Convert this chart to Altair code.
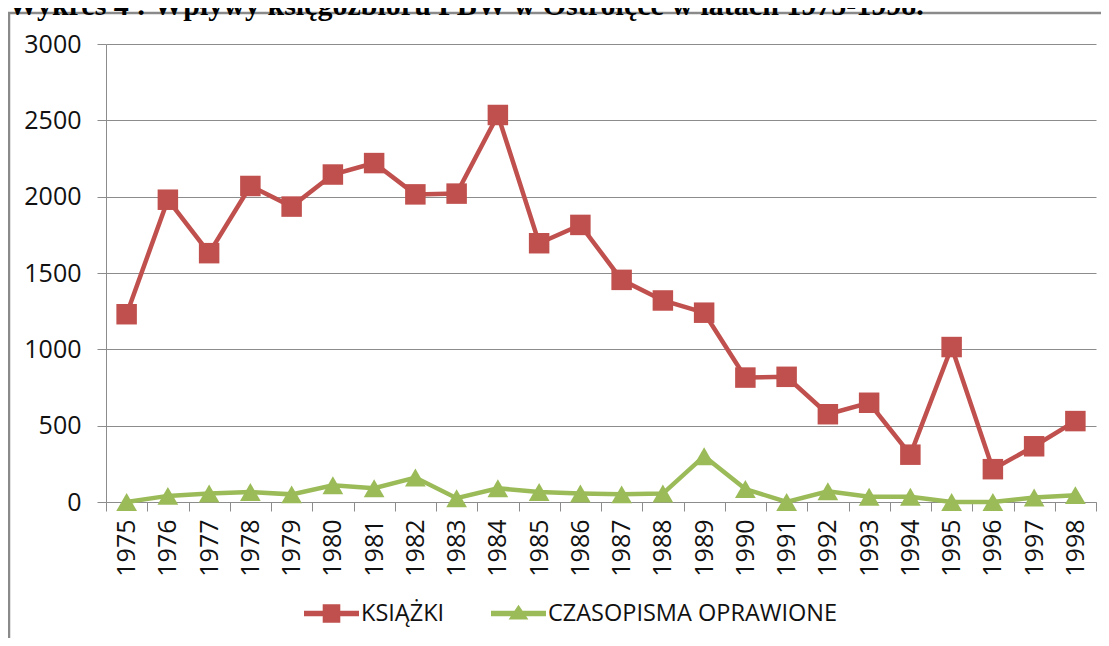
import altair as alt
import pandas as pd

TITLE = "Wykres 4 : Wpływy księgozbioru PBW w Ostrołęce w latach 1975-1998."
YEARS = ["1975", "1976", "1977", "1978", "1979", "1980", "1981", "1982",
         "1983", "1984", "1985", "1986", "1987", "1988", "1989", "1990",
         "1991", "1992", "1993", "1994", "1995", "1996", "1997", "1998"]
SERIES = ["KSIĄŻKI", "CZASOPISMA OPRAWIONE"]
KSIAZKI = [1230, 1980, 1630, 2070, 1935, 2145, 2220, 2015, 2020, 2535, 1695, 1815,
           1455, 1320, 1240, 815, 820, 575, 650, 310, 1015, 215, 365, 530]
CZASOPISMA = [0, 40, 55, 65, 50, 110, 90, 160, 25, 90, 65, 55,
              50, 55, 300, 85, 0, 70, 35, 35, 0, 0, 30, 45]
Y_TICKS = [0, 500, 1000, 1500, 2000, 2500, 3000]
COLORS = ["#C0504D", "#9BBB59"]

FONT = "Open Sans"
GRID = "#8c8c8c"
TXT = "#111111"

# legend symbols: a line with the marker on it
LEG_SQUARE = "M-1,-0.1H1V0.1H-1Z M-0.32,-0.34H0.32V0.34H-0.32Z"
LEG_TRIANGLE = "M-1,-0.1H1V0.1H-1Z M0,-0.32L0.36,0.22H-0.36Z"

df = pd.DataFrame({
    "year": YEARS + YEARS,
    "series": [SERIES[0]] * len(YEARS) + [SERIES[1]] * len(YEARS),
    "value": KSIAZKI + CZASOPISMA,
})

x_enc = alt.X(
    "year:O", sort=YEARS,
    scale=alt.Scale(type="band", paddingInner=0, paddingOuter=0),
    axis=alt.Axis(title=None, labelAngle=270, tickBand="extent", tickSize=9,
                  labelPadding=8, labelFont=FONT, labelFontSize=25, labelColor=TXT,
                  domainColor=GRID, tickColor=GRID, grid=False),
)
y_enc = alt.Y(
    "value:Q",
    scale=alt.Scale(domain=[0, 3000], nice=False),
    axis=alt.Axis(title=None, values=Y_TICKS, format="d", grid=True, gridColor=GRID,
                  gridWidth=1, tickSize=9, tickColor=GRID, domainColor=GRID,
                  labelPadding=16, labelFont=FONT, labelFontSize=25, labelColor=TXT),
)
color_scale = alt.Scale(domain=SERIES, range=COLORS)

base = alt.Chart(df)

lines = base.mark_line(strokeWidth=4.5).encode(
    x=x_enc, y=y_enc,
    color=alt.Color("series:N", scale=color_scale, legend=None),
    detail="series:N",
)

pts_k = base.transform_filter(alt.datum.series == SERIES[0]).mark_point(
    shape="square", filled=True, opacity=1, size=420
).encode(x=x_enc, y=y_enc, color=alt.Color("series:N", scale=color_scale, legend=None))

pts_c = base.transform_filter(alt.datum.series == SERIES[1]).mark_point(
    shape="triangle-up", filled=True, opacity=1, size=430
).encode(x=x_enc, y=y_enc, color=alt.Color("series:N", scale=color_scale, legend=None))

leg_props = dict(orient="none", legendX=198, legendY=542, direction="horizontal",
                 title=None, labelFont=FONT, labelFontSize=23.5, labelColor=TXT,
                 labelOffset=2, columnPadding=46, symbolSize=3025,
                 symbolStrokeWidth=0, symbolOpacity=1, padding=0, labelLimit=600)

legend_layer = base.transform_filter(alt.datum.value < 0).mark_point(
    filled=True, opacity=1
).encode(
    x=x_enc, y=y_enc,
    color=alt.Color("series:N", scale=color_scale, legend=alt.Legend(**leg_props)),
    shape=alt.Shape("series:N", scale=alt.Scale(domain=SERIES, range=[LEG_SQUARE, LEG_TRIANGLE]),
                    legend=alt.Legend(**leg_props)),
)

one = pd.DataFrame({"t": [TITLE]})
frame = alt.Chart(one).mark_rect(filled=False, stroke="#8a8a8a", strokeWidth=2.5).encode(
    x=alt.value(-97), x2=alt.value(1200), y=alt.value(-31), y2=alt.value(800)
)
title = alt.Chart(one).mark_text(
    font="Liberation Serif", fontWeight="bold", fontSize=30, align="left",
    baseline="alphabetic", color="#000000"
).encode(text="t:N", x=alt.value(-98), y=alt.value(-29))

chart = alt.layer(frame, lines, pts_k, pts_c, legend_layer, title).resolve_legend(
    color="independent", shape="independent"
).properties(
    width=990, height=458,
    padding={"left": 98, "top": 36, "right": 5, "bottom": 136},
    autosize=alt.AutoSizeParams(type="none"),
    background="white",
).configure_view(stroke=None)

chart.save("out.html", embed_options={"renderer": "svg", "actions": False})
